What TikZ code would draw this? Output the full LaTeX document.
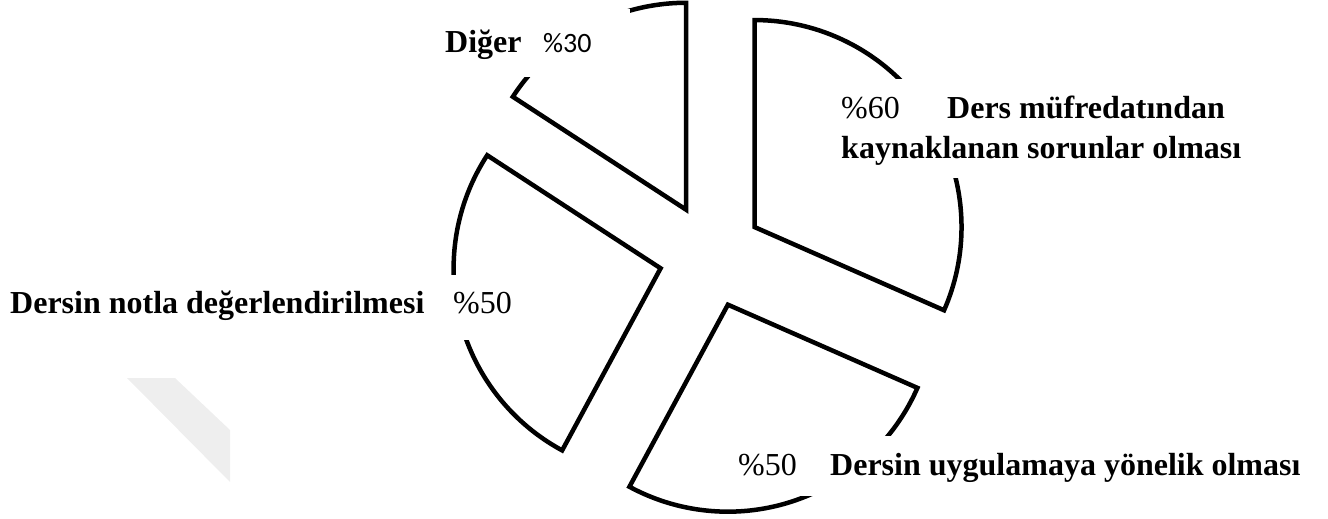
\documentclass[tikz,border=0pt]{standalone}
\usepackage{fontspec}
\setmainfont{Liberation Serif}
\newfontfamily\calfont{Carlito}
\usetikzlibrary{calc}
\definecolor{wm}{HTML}{EEEEEE}
\tikzset{
  slice/.style={draw=black, fill=white, line width=4.5pt, line join=miter},
  mask/.style={fill=white, draw=none},
  lbl/.style={anchor=base west, inner sep=0pt, font=\fontsize{32}{40}\selectfont\bfseries},
  pct/.style={anchor=base west, inner sep=0pt, font=\fontsize{32}{40}\selectfont},
  pctsans/.style={anchor=base west, inner sep=0pt, font=\fontsize{28}{34}\selectfont\calfont}
}
\begin{document}
\begin{tikzpicture}[x=1pt,y=-1pt]
\useasboundingbox (0,0) rectangle (1328,519);
% watermark
\fill[wm] (127,378) -- (175,378) -- (230,430) -- (230,482) -- cycle;
\coordinate (C) at (711,255.5);
% slices
\draw[slice] ($(C)+(33.15:52pt)$) coordinate (vA) -- ++(-23.7:207pt) arc[start angle=-23.7, end angle=90, radius=207pt] -- cycle;
\draw[slice] ($(C)+(118.45:52pt)$) coordinate (vB) -- ++(90:207pt) arc[start angle=90, end angle=146.9, radius=207pt] -- cycle;
\draw[slice] ($(C)+(194.25:52pt)$) coordinate (vC) -- ++(146.9:207pt) arc[start angle=146.9, end angle=241.6, radius=207pt] -- cycle;
\draw[slice] ($(C)+(288.95:52pt)$) coordinate (vD) -- ++(241.6:207pt) arc[start angle=241.6, end angle=336.3, radius=207pt] -- cycle;
% label masks
\fill[mask] (404,9) rectangle (630,77);
\fill[mask] (830,79) rectangle (1250,178);
\fill[mask] (0,275) rectangle (520,340);
\fill[mask] (725,436) rectangle (1315,496);
% labels
\node[lbl] (diger) at (445,53) {Diğer};
\node[pctsans] (p30) at (543,53) {\%30};
\node[pct] (p60) at (841,118) {\%60};
\node[lbl] (mufa) at (947,118) {Ders müfredatından};
\node[lbl] (mufb) at (841,158) {kaynaklanan sorunlar olması};
\node[lbl] (notla) at (10,313) {Dersin notla değerlendirilmesi};
\node[pct] (p50a) at (453,313) {\%50};
\node[pct] (p50b) at (738,475) {\%50};
\node[lbl] (uyg) at (830,475) {Dersin uygulamaya yönelik olması};
\end{tikzpicture}
\end{document}
